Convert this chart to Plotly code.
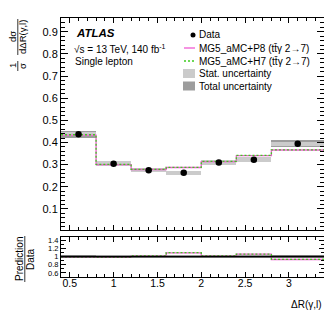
import plotly.graph_objects as go

# ---------------- data ----------------
bin_edges = [0.4, 0.8, 1.2, 1.6, 2.0, 2.4, 2.8, 3.4]
data_vals = [0.437, 0.304, 0.275, 0.263, 0.310, 0.322, 0.394]
p8_vals = [0.433, 0.300, 0.278, 0.287, 0.314, 0.341, 0.366]
h7_vals = [0.435, 0.301, 0.279, 0.288, 0.315, 0.342, 0.367]
total_unc = [0.017, 0.012, 0.010, 0.010, 0.011, 0.011, 0.016]
stat_unc = [0.009, 0.0115, 0.0095, 0.0095, 0.0105, 0.0105, 0.008]
main_yticks = [0.1, 0.2, 0.3, 0.4, 0.5, 0.6, 0.7, 0.8, 0.9]
ratio_yticks = [0.6, 0.8, 1.0, 1.2, 1.4]
ratio_ylabels = ["0.6", "0.8", "1", "1.2", "1.4"]
x_ticks = [0.5, 1.0, 1.5, 2.0, 2.5, 3.0]
x_labels = ["0.5", "1", "1.5", "2", "2.5", "3"]

centers = [(a + b) / 2 for a, b in zip(bin_edges[:-1], bin_edges[1:])]
widths = [b - a for a, b in zip(bin_edges[:-1], bin_edges[1:])]

P8_COL = "#f05ad2"
H7_COL = "#3ccc1e"
STAT_COL = "#cbcbcb"
TOT_COL = "#9d9d9d"
FONT = "Liberation Sans, Arial, sans-serif"

W, H = 332, 319
ML, MR, MT, MB = 53, 16, 10, 50
PW = W - ML - MR
PH = H - MT - MB


def px(xp):
    return (xp - ML) / PW


def py(yp):
    return (H - MB - yp) / PH


fig = go.Figure()


def step(vals):
    return list(vals) + [vals[-1]]


# ---- main panel ----
fig.add_trace(go.Bar(x=centers, y=[2 * u for u in total_unc],
                     base=[v - u for v, u in zip(data_vals, total_unc)],
                     width=widths, marker=dict(color=TOT_COL, line=dict(width=0)),
                     xaxis="x", yaxis="y", showlegend=False, hoverinfo="skip"))
fig.add_trace(go.Bar(x=centers, y=[2 * u for u in stat_unc],
                     base=[v - u for v, u in zip(data_vals, stat_unc)],
                     width=widths, marker=dict(color=STAT_COL, line=dict(width=0)),
                     xaxis="x", yaxis="y", showlegend=False, hoverinfo="skip"))
fig.add_trace(go.Scatter(x=bin_edges, y=step(p8_vals), mode="lines", line_shape="hv",
                         line=dict(color=P8_COL, width=1.3), xaxis="x", yaxis="y",
                         showlegend=False))
fig.add_trace(go.Scatter(x=bin_edges, y=step(h7_vals), mode="lines", line_shape="hv",
                         line=dict(color=H7_COL, width=1.3, dash="2px,2px"), xaxis="x", yaxis="y",
                         showlegend=False))
fig.add_trace(go.Scatter(x=centers, y=data_vals, mode="markers",
                         marker=dict(color="black", size=6.5), xaxis="x", yaxis="y",
                         showlegend=False))

# ---- ratio panel ----
r_tot = [u / v for u, v in zip(total_unc, data_vals)]
r_stat = [u / v for u, v in zip(stat_unc, data_vals)]
r_p8 = [p / d for p, d in zip(p8_vals, data_vals)]
r_h7 = [p / d for p, d in zip(h7_vals, data_vals)]

fig.add_trace(go.Bar(x=centers, y=[2 * u for u in r_tot], base=[1 - u for u in r_tot],
                     width=widths, marker=dict(color=TOT_COL, line=dict(width=0)),
                     xaxis="x2", yaxis="y2", showlegend=False, hoverinfo="skip"))
fig.add_trace(go.Bar(x=centers, y=[2 * u for u in r_stat], base=[1 - u for u in r_stat],
                     width=widths, marker=dict(color=STAT_COL, line=dict(width=0)),
                     xaxis="x2", yaxis="y2", showlegend=False, hoverinfo="skip"))
fig.add_trace(go.Scatter(x=bin_edges, y=step(r_p8), mode="lines", line_shape="hv",
                         line=dict(color=P8_COL, width=1.3), xaxis="x2", yaxis="y2",
                         showlegend=False))
fig.add_trace(go.Scatter(x=bin_edges, y=step(r_h7), mode="lines", line_shape="hv",
                         line=dict(color=H7_COL, width=1.3, dash="2px,2px"), xaxis="x2", yaxis="y2",
                         showlegend=False))
fig.add_trace(go.Scatter(x=[bin_edges[0], bin_edges[-1]], y=[1, 1], mode="lines",
                         line=dict(color="black", width=1.6), xaxis="x2", yaxis="y2",
                         showlegend=False))

common_x = dict(range=[bin_edges[0], bin_edges[-1]], showline=True, linecolor="black",
                linewidth=1, mirror="allticks", ticks="inside", ticklen=5, tickcolor="black",
                tickvals=x_ticks, showgrid=False, zeroline=False,
                minor=dict(dtick=0.1, tick0=0.4, ticks="inside", ticklen=3, tickcolor="black"))

fig.update_layout(
    width=W, height=H, margin=dict(l=ML, r=MR, t=MT, b=MB),
    plot_bgcolor="white", paper_bgcolor="white",
    barmode="overlay", bargap=0,
    font=dict(family=FONT, color="black", size=11),
    xaxis=dict(**common_x, domain=[0, 1], anchor="y", showticklabels=False),
    yaxis=dict(domain=[0.1815, 1], anchor="x", range=[0.005, 0.962], showline=True,
               linecolor="black", linewidth=1, mirror="allticks", ticks="inside", ticklen=7,
               tickcolor="black", tickvals=main_yticks, ticktext=[f"{v:.1f}" for v in main_yticks],
               tickfont=dict(size=11), showgrid=False, zeroline=False,
               minor=dict(dtick=0.02, tick0=0, ticks="inside", ticklen=4, tickcolor="black")),
    xaxis2=dict(**common_x, domain=[0, 1], anchor="y2", showticklabels=True,
                ticktext=x_labels, tickfont=dict(size=10.5), ticklabelstandoff=-4),
    yaxis2=dict(domain=[0, 0.1544], anchor="x2", range=[0.5, 1.48], showline=True,
                linecolor="black", linewidth=1, mirror="allticks", ticks="inside", ticklen=5,
                tickcolor="black", tickvals=ratio_yticks, ticktext=ratio_ylabels,
                tickfont=dict(size=7.5), showgrid=False, zeroline=False,
                minor=dict(dtick=0.1, tick0=0, ticks="inside", ticklen=3, tickcolor="black")),
)

ann = []
shapes = []


def text(x, y, s, size=10, xanchor="left", angle=0):
    ann.append(dict(x=px(x), y=py(y), xref="paper", yref="paper", text=s, showarrow=False,
                    xanchor=xanchor, yanchor="middle", textangle=angle,
                    font=dict(size=size, family=FONT, color="black")))


# ATLAS labels
text(66, 24.5, "<b><i>ATLAS</i></b>", size=11.5)
text(64, 41, "√s = 13 TeV, 140 fb<sup>-1</sup>", size=10)
text(65, 53, "Single lepton", size=10)

# legend
leg_rows = [27, 40, 53, 65.5, 78]
leg_text = ["Data", "MG5_aMC+P8 (tt\u0304γ 2→7)", "MG5_aMC+H7 (tt\u0304γ 2→7)",
            "Stat. uncertainty", "Total uncertainty"]
for yy, s in zip(leg_rows, leg_text):
    text(188.5, yy, s, size=10)
shapes.append(dict(type="circle", xref="paper", yref="paper", x0=px(182.5), x1=px(187.5),
                   y0=py(29.5), y1=py(24.5), fillcolor="black", line=dict(width=0)))
shapes.append(dict(type="line", xref="paper", yref="paper", x0=px(176), x1=px(187),
                   y0=py(40), y1=py(40), line=dict(color=P8_COL, width=1.3)))
shapes.append(dict(type="line", xref="paper", yref="paper", x0=px(176), x1=px(187),
                   y0=py(53), y1=py(53), line=dict(color=H7_COL, width=1.3, dash="2px,2px")))
shapes.append(dict(type="rect", xref="paper", yref="paper", x0=px(175), x1=px(187),
                   y0=py(70), y1=py(61), fillcolor=STAT_COL, line=dict(width=0)))
shapes.append(dict(type="rect", xref="paper", yref="paper", x0=px(175), x1=px(187),
                   y0=py(82.5), y1=py(73.5), fillcolor=TOT_COL, line=dict(width=0)))

# y-axis titles (fractions)
text(5, 29, "dσ", size=9.5, xanchor="center", angle=-90)
text(15, 29, "dΔR(γ,l)", size=9.5, xanchor="center", angle=-90)
shapes.append(dict(type="line", xref="paper", yref="paper", x0=px(9.8), x1=px(9.8),
                   y0=py(11), y1=py(47), line=dict(color="black", width=0.8)))
text(5, 58, "1", size=9.5, xanchor="center", angle=-90)
text(15, 58, "σ", size=9.5, xanchor="center", angle=-90)
shapes.append(dict(type="line", xref="paper", yref="paper", x0=px(9.8), x1=px(9.8),
                   y0=py(53), y1=py(63), line=dict(color="black", width=0.8)))

text(11, 251, "Prediction", size=10, xanchor="center", angle=-90)
text(22, 251, "Data", size=10, xanchor="center", angle=-90)
shapes.append(dict(type="line", xref="paper", yref="paper", x0=px(16.8), x1=px(16.8),
                   y0=py(228), y1=py(274), line=dict(color="black", width=0.8)))

# x-axis title
ann.append(dict(x=1, y=py(296), xref="paper", yref="paper", text="ΔR(γ,l)", showarrow=False,
                xanchor="right", yanchor="middle", font=dict(size=10, family=FONT, color="black")))

fig.update_layout(annotations=ann, shapes=shapes)
fig.write_html("out.html")
